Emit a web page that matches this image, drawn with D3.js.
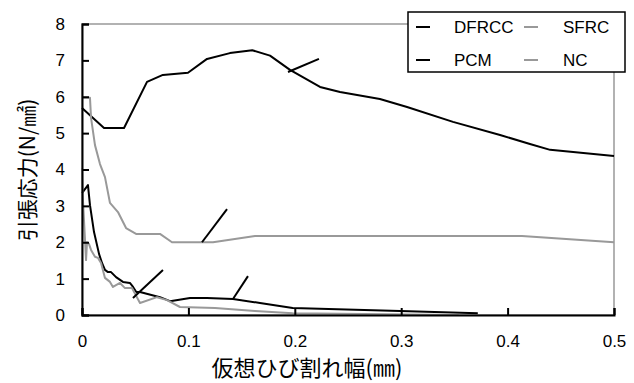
<!DOCTYPE html>
<html>
<head>
<meta charset="utf-8">
<script src="https://d3js.org/d3.v7.min.js"></script>
<style>
  body { margin: 0; background: #fff; }
</style>
</head>
<body>
<div id="chart"></div>
<script>
// crack width (mm) vs tensile stress (N/mm2)
var dfrcc = [[0,5.69],[0.0207,5.14],[0.0395,5.14],[0.0611,6.41],[0.076,6.6],[0.0996,6.66],[0.1175,7.04],[0.139,7.2],[0.16,7.28],[0.1767,7.13],[0.1955,6.74],[0.2237,6.27],[0.2425,6.13],[0.28,5.94],[0.3055,5.72],[0.3487,5.31],[0.3929,4.95],[0.421,4.7],[0.44,4.54],[0.5,4.37]];
var sfrc = [[0,5.97],[0.0075,5.97],[0.0085,5.42],[0.0122,4.67],[0.0169,4.15],[0.0216,3.79],[0.0263,3.08],[0.0338,2.83],[0.0414,2.39],[0.0508,2.23],[0.0733,2.23],[0.0846,2.0],[0.1231,2.0],[0.1626,2.17],[0.4135,2.17],[0.5,2.0]];
var pcm = [[0,3.35],[0.0056,3.57],[0.0075,3.02],[0.0113,2.28],[0.016,1.68],[0.0188,1.43],[0.0216,1.24],[0.0244,1.18],[0.0273,1.18],[0.032,1.04],[0.0385,0.91],[0.045,0.88],[0.048,0.77],[0.051,0.63],[0.0545,0.63],[0.0733,0.49],[0.0827,0.38],[0.1015,0.47],[0.1175,0.47],[0.1419,0.44],[0.1673,0.33],[0.198,0.19],[0.299,0.11],[0.372,0.05]];
var nc = [[0,4.04],[0.0005,3.38],[0.0038,1.51],[0.0047,2.0],[0.0066,1.95],[0.0085,1.79],[0.0122,1.6],[0.015,1.57],[0.0179,1.43],[0.0216,1.02],[0.0263,0.91],[0.0291,0.77],[0.0357,0.88],[0.0404,0.74],[0.047,0.74],[0.0545,0.33],[0.0705,0.49],[0.0799,0.41],[0.0921,0.22],[0.125,0.19],[0.1626,0.11],[0.198,0.05],[0.354,0.0]];
// short leader strokes left on the curves
var leaders = [[[0.1936,6.68],[0.2227,7.04]],[[0.1128,2.0],[0.1363,2.91]],[[0.0479,0.47],[0.0761,1.24]],[[0.1419,0.44],[0.156,1.07]]];

var xTicks = [0, 0.1, 0.2, 0.3, 0.4, 0.5];
var yTicks = [0, 1, 2, 3, 4, 5, 6, 7, 8];
var seriesNames = ["DFRCC", "SFRC", "PCM", "NC"];
var xTitle = "仮想ひび割れ幅(㎜)";
var yTitle = "引張応力(N/㎟)";

var W = 634, H = 383;
var margin = {top: 24, right: 20, bottom: 68, left: 82},
    width = W - margin.left - margin.right,
    height = H - margin.top - margin.bottom;

var black = "#000", grey = "#999";
var series = [
  {name: seriesNames[0], data: dfrcc, color: black},
  {name: seriesNames[1], data: sfrc, color: grey},
  {name: seriesNames[2], data: pcm, color: black},
  {name: seriesNames[3], data: nc, color: grey}
];

var svg = d3.select("#chart").append("svg")
    .attr("width", W).attr("height", H)
  .append("g")
    .attr("transform", "translate(" + margin.left + "," + margin.top + ")");

var x = d3.scaleLinear().domain([0, 0.5]).range([0, width]);
var y = d3.scaleLinear().domain([0, 8]).range([height, 0]);

// plot frame (grey on top and right)
svg.append("rect")
    .attr("x", 0).attr("y", 0)
    .attr("width", width).attr("height", height)
    .attr("fill", "none").attr("stroke", grey).attr("stroke-width", 1.5);

var line = d3.line().x(function(d){ return x(d[0]); }).y(function(d){ return y(d[1]); });

series.forEach(function(s){
  svg.append("path")
      .datum(s.data)
      .attr("d", line)
      .attr("fill", "none")
      .attr("stroke", s.color)
      .attr("stroke-width", 2)
      .attr("stroke-linejoin", "round");
});

svg.selectAll(".leader").data(leaders).enter()
  .append("path")
    .attr("class", "leader")
    .attr("d", line)
    .attr("stroke", black)
    .attr("stroke-width", 2);

// axes, ticks pointing inward
var tickFont = "'Liberation Sans', Arial, sans-serif";
var gx = svg.append("g")
    .attr("transform", "translate(0," + height + ")")
    .call(d3.axisBottom(x).tickValues(xTicks).tickSize(-7).tickPadding(20)
          .tickFormat(function(d){ return d === 0 ? "0" : d3.format(".1f")(d); }));
var gy = svg.append("g")
    .call(d3.axisLeft(y).tickValues(yTicks).tickSize(-7).tickPadding(17).tickFormat(d3.format("d")));
[gx, gy].forEach(function(g){
  g.select(".domain").attr("stroke", black).attr("stroke-width", 2);
  g.selectAll(".tick line").attr("stroke", black).attr("stroke-width", 2);
  g.selectAll(".tick text").attr("fill", black)
    .style("font-family", tickFont).style("font-size", "17px");
});

// axis titles
svg.append("text")
    .attr("x", 225).attr("y", height + 61)
    .attr("text-anchor", "middle")
    .style("font-family", "'Noto Sans CJK JP', sans-serif")
    .style("font-size", "22px")
    .text(xTitle);
svg.append("text")
    .attr("transform", "translate(-54," + (170 - margin.top) + ") rotate(-90)")
    .attr("text-anchor", "middle")
    .attr("dy", "0.35em")
    .style("font-family", "'Noto Sans CJK JP', sans-serif")
    .style("font-size", "21px")
    .text(yTitle);

// legend box
var leg = d3.select("svg").append("g");
leg.append("rect")
    .attr("x", 408).attr("y", 12).attr("width", 217).attr("height", 60)
    .attr("fill", "#fff").attr("stroke", black).attr("stroke-width", 1.5);
var legPos = [[416, 27], [524, 27], [416, 60], [524, 60]];
series.forEach(function(s, i){
  var p = legPos[i];
  leg.append("line")
      .attr("x1", p[0]).attr("x2", p[0] + 14)
      .attr("y1", p[1]).attr("y2", p[1])
      .attr("stroke", s.color).attr("stroke-width", 2);
  leg.append("text")
      .attr("x", p[0] + (i % 2 ? 39 : 38)).attr("y", p[1] + 6)
      .style("font-family", tickFont).style("font-size", "17px")
      .text(s.name);
});
</script>
</body>
</html>
